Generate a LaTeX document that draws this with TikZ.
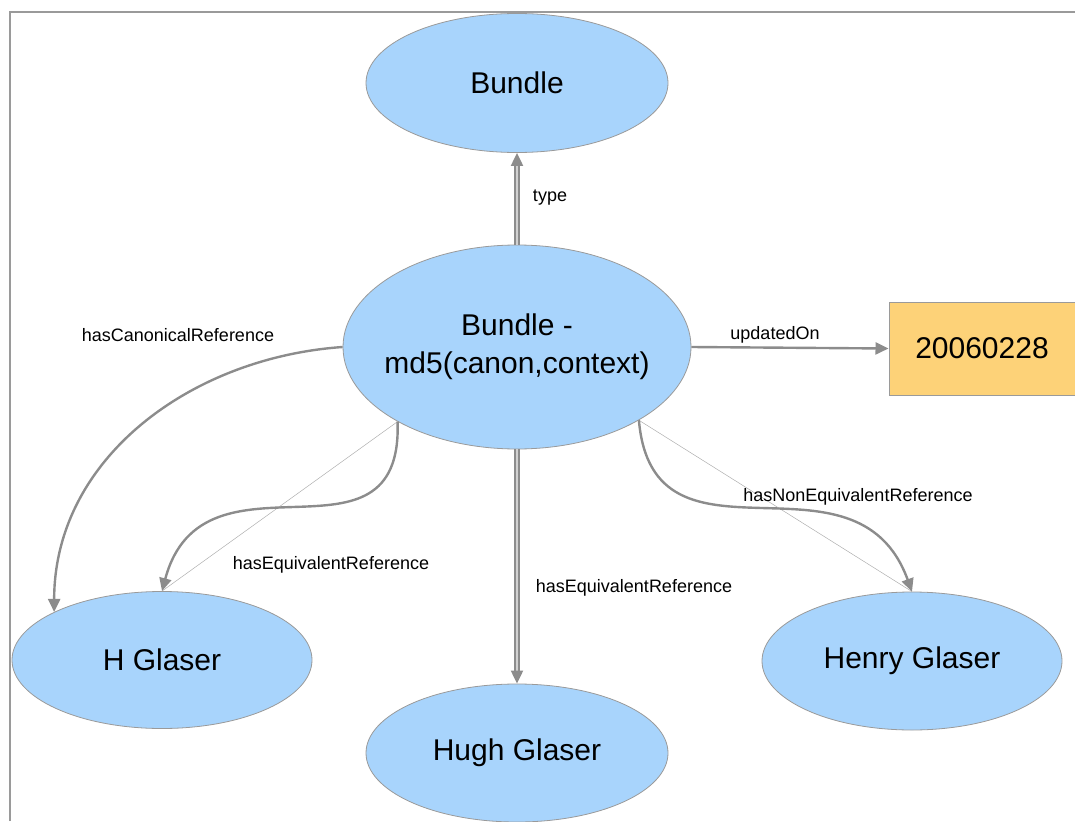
\documentclass[tikz,border=0pt]{standalone}
\usepackage{fontspec}
\setmainfont{Liberation Sans}
\usepackage{tikz}
\usetikzlibrary{arrows.meta,shapes.geometric}
\definecolor{NodeBlue}{HTML}{A8D4FC}
\definecolor{LitYellow}{HTML}{FDD278}
\definecolor{EdgeGray}{HTML}{8C8C8C}
\definecolor{LineGray}{HTML}{9A9A9A}

\begin{document}
\begin{tikzpicture}[x=1pt,y=-1pt,
  res/.style={ellipse,draw=LineGray,fill=NodeBlue,line width=0.8pt,inner sep=0pt,
    font=\fontsize{30}{38}\selectfont,align=center},
  lit/.style={rectangle,draw=LineGray,fill=LitYellow,line width=1pt,inner sep=0pt,
    minimum width=186pt,minimum height=93pt,font=\fontsize{30}{38}\selectfont},
  prop/.style={draw=EdgeGray,line width=2.4pt,-{Triangle[length=13pt,width=12pt]}},
  pair/.style={prop,line width=2pt,double=EdgeGray!40,double distance=1.4pt},
  trace/.style={draw=LineGray!80,line width=0.5pt},
  lbl/.style={font=\fontsize{18}{20}\selectfont,inner sep=0pt}]
  \useasboundingbox (0,0) rectangle (1075,821);
  \draw[LineGray,line width=2pt] (10,821) -- (10,12) -- (1075,12);

  % resources and the literal
  \node[res,minimum width=302pt,minimum height=139pt] (bundle) at (517,83) {Bundle};
  \node[res,inner xsep=-40pt,minimum width=348pt,minimum height=204pt] (ctr) at (517,347)
    {Bundle -\\md5(canon,context)};
  \node[lit] (date) at (982,348.5) {20060228};
  \node[res,minimum width=300pt,minimum height=137pt] (hg) at (162,660) {H Glaser};
  \node[res,minimum width=302pt,minimum height=138pt] (hugh) at (517,753) {Hugh Glaser};
  \node[res,minimum width=300pt,minimum height=138pt] (henry) at (912,661) {Henry Glaser};

  % properties
  \draw[pair] (ctr) -- (bundle);
  \draw[prop] (ctr.east) -- (date.west);
  \draw[pair] (ctr) -- (hugh);
  \draw[prop] (ctr.west) to[out=184,in=90] (hg.156);
  \draw[trace] (ctr.212) -- (hg.north);
  \draw[prop] (ctr.212) to[out=-88,in=75,looseness=1.4] (hg.north);
  \draw[trace] (ctr.-31) -- (henry.north);
  \draw[prop] (ctr.-31) to[out=-85,in=110,looseness=1.3] (henry.north);

  \node[lbl] (lType) at (550,198) {type};
  \node[lbl] (lUpd) at (775,335) {updatedOn};
  \node[lbl] (lCanon) at (178,335) {hasCanonicalReference};
  \node[lbl] (lEqA) at (331,565) {hasEquivalentReference};
  \node[lbl] (lEqB) at (634,588) {hasEquivalentReference};
  \node[lbl] (lNonEq) at (858,497) {hasNonEquivalentReference};
\end{tikzpicture}
\end{document}
